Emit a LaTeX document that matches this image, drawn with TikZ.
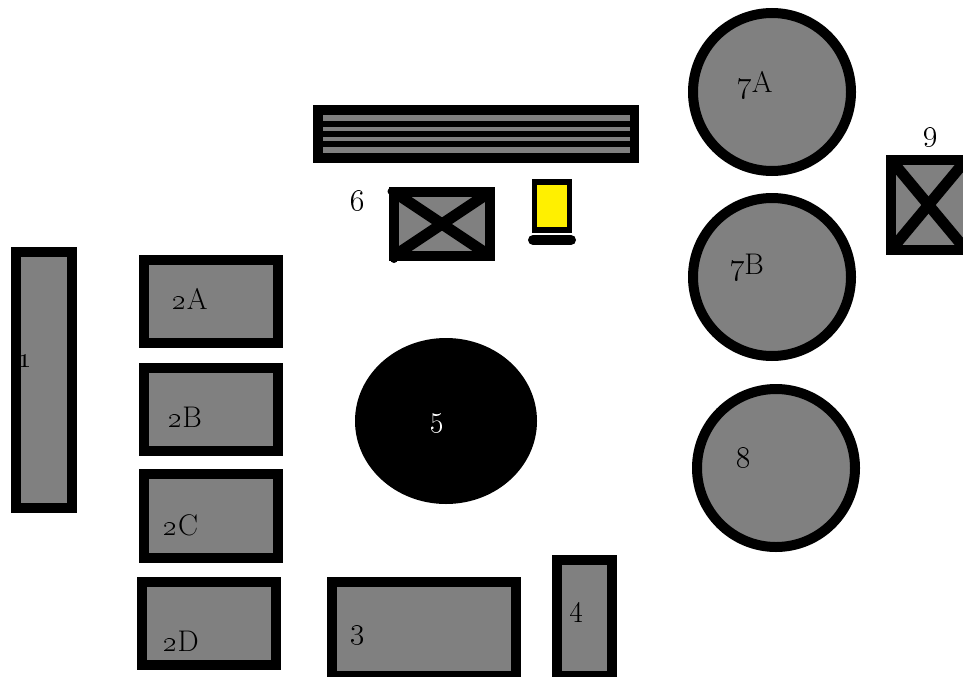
\documentclass[tikz,border=0pt]{standalone}
\definecolor{unitgray}{RGB}{128,128,128}
\definecolor{lampyellow}{RGB}{255,240,0}
\begin{document}
\begin{tikzpicture}[x=0.02cm, y=-0.02cm, font=\fontsize{17}{20}\selectfont,
    unit/.style={draw=black, line width=0.2cm, fill=unitgray},
    crossing/.style={draw=black, line width=0.22cm},
    strip/.style={fill=unitgray},
    lab/.style={inner sep=0pt, anchor=base}]

  \useasboundingbox (0,0) rectangle (963,676);

% ---------------- left column: 1 and the four 2x units
  \draw[unit] (16,252) rectangle (72,508);
  \draw[unit] (144,260) rectangle (278,343);
  \draw[unit] (144,368) rectangle (278,451);
  \draw[unit] (144,474) rectangle (278,558);
  \draw[unit] (142,582) rectangle (276,665);
  \node[lab] (n1) at (25,367) {\oldstylenums{1}};
  \node[lab] (n2a) at (190,309) {\oldstylenums{2}A};
  \node[lab] (n2b) at (185,427) {\oldstylenums{2}B};
  \node[lab] (n2c) at (181,535) {\oldstylenums{2}C};
  \node[lab] (n2d) at (181,651) {\oldstylenums{2}D};

% ---------------- bottom: 3 and 4
  \draw[unit] (332,582) rectangle (516,676);
  \draw[unit] (557,560) rectangle (612,676);
  \node[lab] (n3) at (358,638) {\oldstylenums{3}};
  \node[lab] (n4) at (577,616) {\oldstylenums{4}};

% ---------------- the black ellipse
  \fill[black] (446,421) ellipse [x radius=91, y radius=83];
  \node[lab, text=white] (n5) at (438,426) {\oldstylenums{5}};

% ---------------- the striped bar
  \fill[black] (313,105) rectangle (639,163);
  \fill[strip] (323,115) rectangle (630,121);
  \fill[strip] (323,127) rectangle (630,131);
  \fill[strip] (323,137) rectangle (630,141);
  \fill[strip] (323,147) rectangle (630,153);

% ---------------- 6: crossed box
  \draw[unit] (394,192) rectangle (490,256);
  \draw[crossing] (394,192) -- (490,256);
  \draw[crossing] (394,256) -- (490,192);
  \draw[black, line width=0.14cm, line cap=round] (391,191) -- (396,191);
  \draw[black, line width=0.16cm, line cap=round] (394,255) -- (394,259);
  \node[lab] (n6) at (358,210) {\oldstylenums{6}};

% ---------------- yellow lamp on its base
  \draw[draw=black, line width=0.11cm, fill=lampyellow] (534.7,182) rectangle (569.3,230);
  \draw[black, line width=0.2cm, line cap=round] (533,240) -- (571,240);

% ---------------- round tanks
  \draw[unit] (772,92) circle (79);
  \draw[unit] (772,277) circle (79);
  \draw[unit] (776,468) circle (79);
  \node[lab] (n7a) at (755,92) {\oldstylenums{7}A};
  \node[lab] (n7b) at (747,274) {\oldstylenums{7}B};
  \node[lab] (n8) at (744,467) {\oldstylenums{8}};

% ---------------- 9: crossed box, cut by the right edge
  \draw[unit] (891,160) rectangle (968,250);
  \draw[crossing] (891,160) -- (966,250);
  \draw[crossing] (891,250) -- (966,160);
  \node[lab] (n9) at (931,140) {\oldstylenums{9}};
\end{tikzpicture}
\end{document}
